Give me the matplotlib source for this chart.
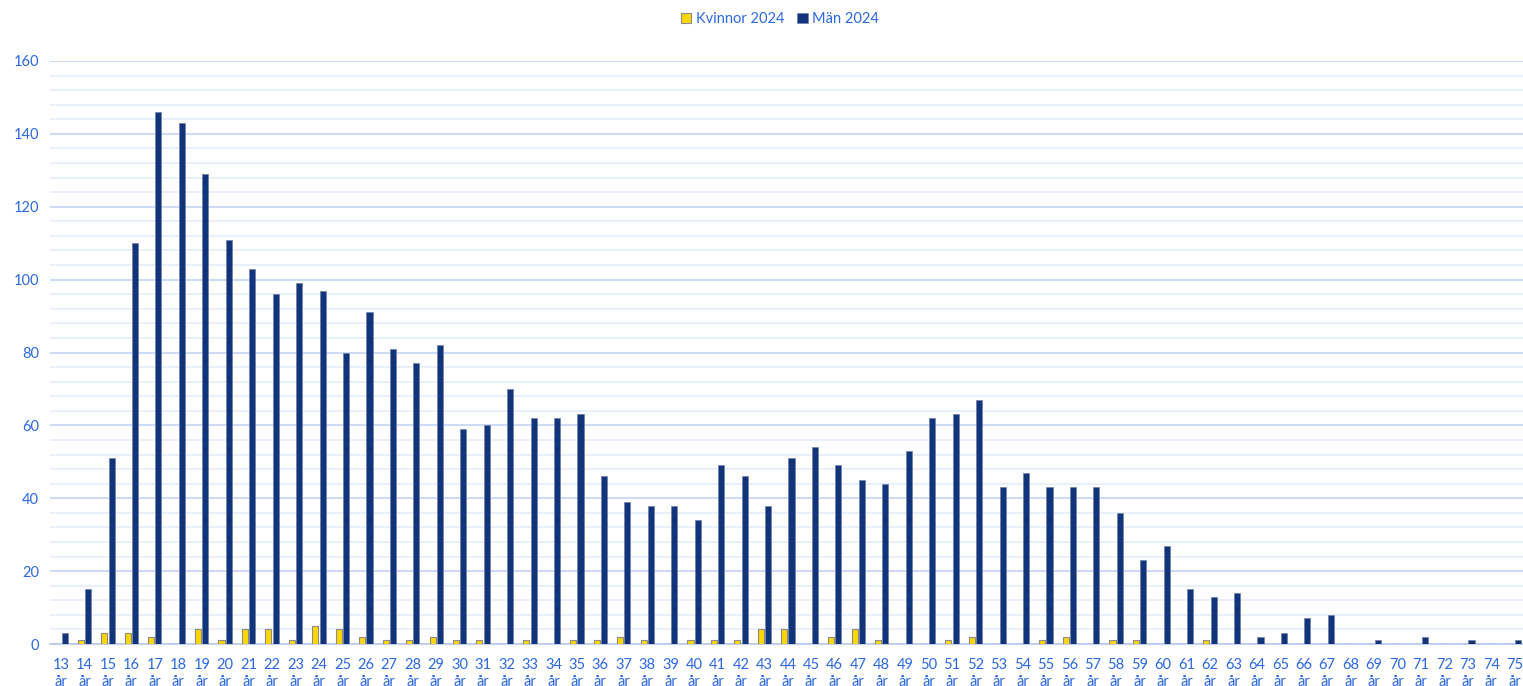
import numpy as np
import matplotlib
matplotlib.use("Agg")
import matplotlib.pyplot as plt
from matplotlib.ticker import MultipleLocator

# ages 13..75
ages = list(range(13, 76))
labels = [f"{a}\når" for a in ages]

man = [3, 15, 51, 110, 146, 143, 129, 111, 103, 96, 99, 97, 80, 91, 81, 77, 82,
       59, 60, 70, 62, 62, 63, 46, 39, 38, 38, 34, 49, 46, 38, 51, 54, 49, 45,
       44, 53, 62, 63, 67, 43, 47, 43, 43, 43, 36, 23, 27, 15, 13, 14, 2, 3, 7,
       8, 0, 1, 0, 2, 0, 1, 0, 1]
kvinnor = [0, 1, 3, 3, 2, 0, 4, 1, 4, 4, 1, 5, 4, 2, 1, 1, 2, 1, 1, 0, 1, 0, 1,
           1, 2, 1, 0, 1, 1, 1, 4, 4, 0, 2, 4, 1, 0, 0, 1, 2, 0, 0, 1, 2, 0, 1,
           1, 0, 0, 1, 0, 0, 0, 0, 0, 0, 0, 0, 0, 0, 0, 0, 0]

txt = "#2B68E3"
plt.rcParams['font.family'] = ['Lato', 'DejaVu Sans']

fig = plt.figure(figsize=(15.23, 6.86), dpi=100)
ax = fig.add_axes([50/1523, 1-644/686, 1473/1523, (644-61)/686])

x = np.arange(len(ages))
w = 0.26
ax.bar(x - 0.155, kvinnor, w, color="#FFD700", edgecolor="#8C8C8C", lw=0.8,
       label="Kvinnor 2024", zorder=3)
ax.bar(x + 0.155, man, w, color="#12347A", edgecolor="#6F7FA8", lw=0.5,
       label="Män 2024", zorder=3)

ax.set_xlim(-0.47, 62.35)
ax.set_ylim(0, 160)
ax.yaxis.set_major_locator(MultipleLocator(20))
ax.yaxis.set_minor_locator(MultipleLocator(4))
ax.grid(axis='y', which='major', color="#C3D4F7", lw=1.2, zorder=0)
ax.grid(axis='y', which='minor', color="#E6EDFB", lw=1.2, zorder=0)
ax.set_xticks(x)
ax.set_xticklabels(labels, color=txt, fontsize=10.5, linespacing=1.25)
ax.tick_params(axis='y', colors=txt, labelsize=10.5, length=0, pad=8)
ax.tick_params(axis='x', length=0, pad=10)
ax.tick_params(which='minor', length=0)
for s in ['top', 'right', 'left']:
    ax.spines[s].set_visible(False)
ax.spines['bottom'].set_color("#B8C8EE")
ax.spines['bottom'].set_linewidth(1.2)

leg = ax.legend(loc='center', bbox_to_anchor=(780/1523, 1-19/686),
                bbox_transform=fig.transFigure, ncol=2, frameon=False,
                fontsize=10.5, handlelength=0.7, handleheight=0.7,
                handletextpad=0.3, columnspacing=0.9)
for t in leg.get_texts():
    t.set_color(txt)

fig.savefig("out.png", dpi=100)
